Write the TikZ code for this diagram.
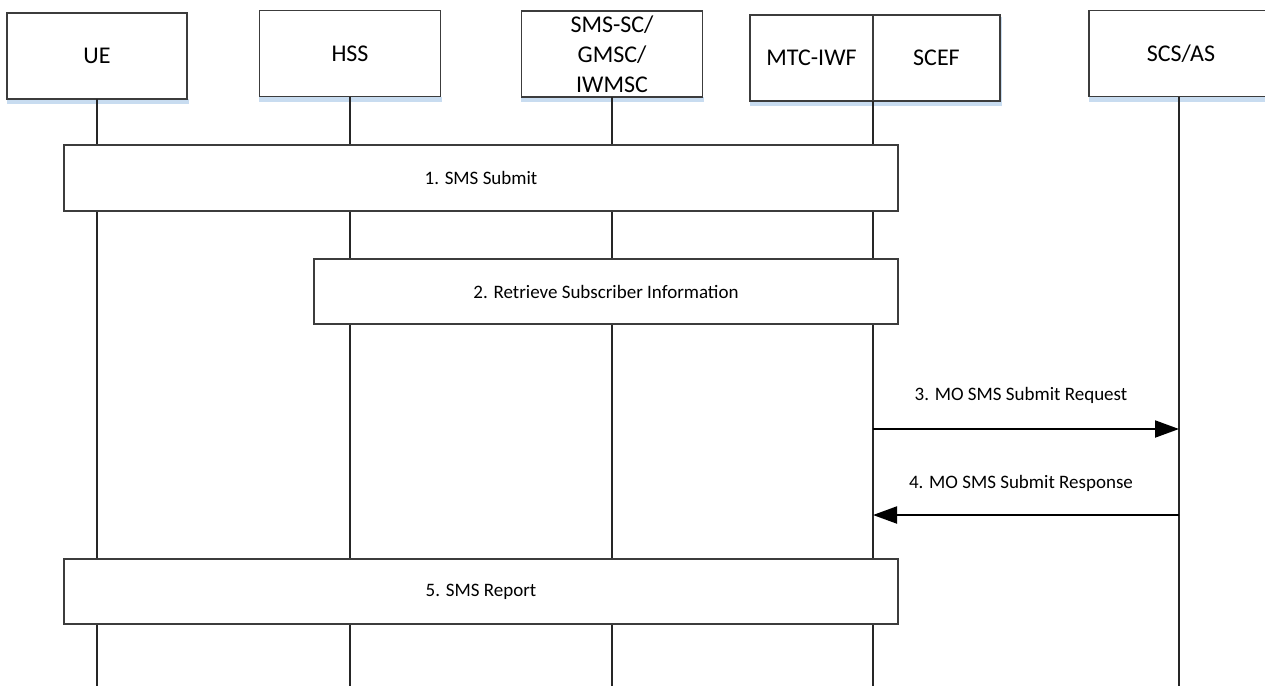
\documentclass[tikz,border=0pt]{standalone}
\usepackage{fontspec}
\setmainfont{Carlito}
\usetikzlibrary{arrows.meta}
\definecolor{shadowc}{RGB}{200,220,240}
\definecolor{edgec}{RGB}{60,60,60}
\tikzset{
  entity/.style={draw=edgec, line width=1.2pt, fill=white, minimum height=86pt, inner sep=2pt,
    outer sep=0pt, font=\fontsize{24}{30}\selectfont, align=center},
  stepbox/.style={draw=edgec, line width=1.2pt, fill=white, inner sep=0pt,
    font=\fontsize{19}{23}\selectfont},
  life/.style={line width=1.8pt, black!85},
  msg/.style={line width=2pt, -{Triangle[length=24pt,width=17pt]}},
  lbl/.style={font=\fontsize{19}{23}\selectfont, inner sep=0pt},
}
\begin{document}
\begin{tikzpicture}[x=1pt,y=-1pt]
\useasboundingbox (0,0) rectangle (1265,686);
% shadows
\fill[shadowc] (7,99) rectangle (189,104);
\fill[shadowc] (259,97) rectangle (442,102);
\fill[shadowc] (521,97) rectangle (704,102);
\fill[shadowc] (750,101) rectangle (1002,106);
\fill[shadowc] (1089,97) rectangle (1275,102);
\fill[shadowc] (1000,17) rectangle (1002,101);
% entities
\node[entity, minimum width=180pt] (ue) at (97,56) {UE};
\node[entity, minimum width=181pt] (hss) at (350,53.5) {HSS};
\node[entity, minimum width=181pt] (sms) at (612,54) {SMS-SC/\\GMSC/\\IWMSC};
\node[entity, minimum width=123pt] (mtc) at (811.5,58) {MTC-IWF};
\node[entity, minimum width=127pt] (scef) at (936.5,58) {SCEF};
\node[entity, minimum width=184pt] (as) at (1181,53.5) {SCS/AS};
\coordinate (bot) at (0,686);
\coordinate (asl) at (1179,97);
% lifelines
\draw[life] (ue.south) -- (ue.south |- bot);
\draw[life] (hss.south) -- (hss.south |- bot);
\draw[life] (sms.south) -- (sms.south |- bot);
\draw[life] (mtc.south east) -- (mtc.south east |- bot);
\draw[life] (asl) -- (asl |- bot);
% steps
\node[stepbox, minimum width=834pt, minimum height=66pt] (s1) at (481,178) {1. SMS Submit};
\node[stepbox, minimum width=584pt, minimum height=65pt] (s2) at (606,291.5) {2. Retrieve Subscriber Information};
\node[stepbox, minimum width=834pt, minimum height=65pt] (s5) at (481,591.5) {5. SMS Report};
% messages
\coordinate (m3a) at (mtc.south east |- 0,429);
\coordinate (m3b) at (asl |- 0,429);
\coordinate (m4a) at (asl |- 0,515);
\coordinate (m4b) at (mtc.south east |- 0,515);
\draw[msg] (m3a) -- (m3b);
\draw[msg] (m4a) -- (m4b);
\node[lbl] (l3) at (1021,395) {3. MO SMS Submit Request};
\node[lbl] (l4) at (1021,483) {4. MO SMS Submit Response};
\end{tikzpicture}
\end{document}
